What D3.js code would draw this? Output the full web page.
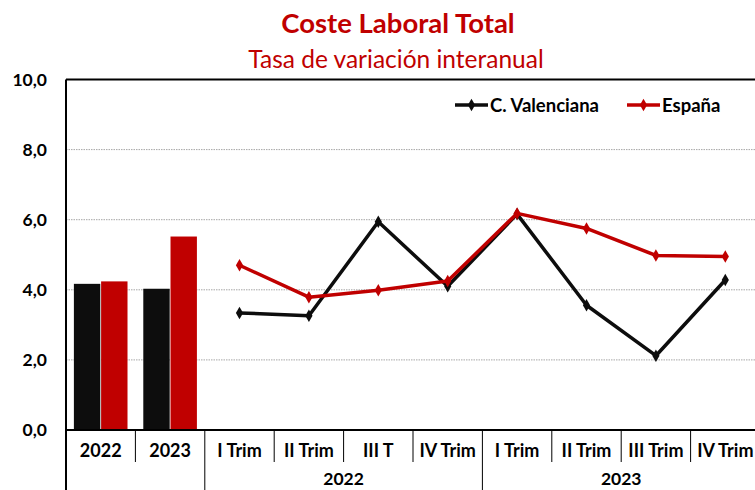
<!DOCTYPE html>
<html>
<head>
<meta charset="utf-8">
<script src="https://cdn.jsdelivr.net/npm/d3@7"></script>
<style>
  body { margin: 0; background: #fff; }
  text { font-family: Lato, 'Open Sans', sans-serif; }
</style>
</head>
<body>
<div id="chart"></div>
<script>
// categories on the x axis
const categories = ['2022a', '2023a', 'IT22', 'IIT22', 'IIIT22', 'IVT22', 'IT23', 'IIT23', 'IIIT23', 'IVT23'];
const catLabels = ['2022', '2023', 'I Trim', 'II Trim', 'III T', 'IV Trim', 'I Trim', 'II Trim', 'III Trim', 'IV Trim'];
const groups = [
    {label: '2022', from: 'IT22', to: 'IVT22'},
    {label: '2023', from: 'IT23', to: 'IVT23'}
];

// annual bars
const annual = ['2022a', '2023a'];
const barValenciana = [4.17, 4.03];
const barEspana = [4.24, 5.52];

// quarterly lines
const quarters = ['IT22', 'IIT22', 'IIIT22', 'IVT22', 'IT23', 'IIT23', 'IIIT23', 'IVT23'];
const lineValenciana = [3.34, 3.26, 5.94, 4.10, 6.16, 3.56, 2.12, 4.28];
const lineEspana = [4.70, 3.79, 3.99, 4.25, 6.18, 5.75, 4.98, 4.95];

const yTicks = [0, 2, 4, 6, 8, 10];

const colors = {cv: '#0d0d0d', es: '#c00000'};

const width = 755;
const height = 490;
const margin = {top: 79.5, left: 66, bottom: 60};
const plotRight = 760;

const svg = d3.select('#chart')
    .append('svg')
    .attr('width', width)
    .attr('height', height);

const x = d3.scaleBand()
    .domain(categories)
    .range([margin.left, plotRight]);

const y = d3.scaleLinear()
    .domain([0, 10])
    .range([430, margin.top]);

const xInner = d3.scaleBand()
    .domain(['cv', 'es'])
    .range([0, x.bandwidth()])
    .paddingInner(0.03)
    .paddingOuter(0.29);

// title
svg.append('text')
    .attr('x', 398)
    .attr('y', 33)
    .attr('text-anchor', 'middle')
    .style('font-size', '27.5px')
    .style('font-weight', 700)
    .style('fill', '#c00000')
    .text('Coste Laboral Total');

svg.append('text')
    .attr('x', 396)
    .attr('y', 68)
    .attr('text-anchor', 'middle')
    .style('font-size', '24.5px')
    .style('fill', '#c00000')
    .text('Tasa de variación interanual');

// gridlines
svg.append('g').selectAll('.grid')
    .data(yTicks.filter(d => d > 0 && d < 10))
    .enter()
    .append('line')
        .classed('grid', true)
        .attr('x1', margin.left)
        .attr('x2', plotRight)
        .attr('y1', d => y(d))
        .attr('y2', d => y(d))
        .attr('stroke', '#a6a6a6')
        .attr('stroke-width', 1)
        .attr('stroke-dasharray', '1.5,1');

// y axis
const yAxis = d3.axisLeft(y)
    .tickValues(yTicks)
    .tickSize(0)
    .tickPadding(19)
    .tickFormat(d => d3.format('.1f')(d).replace('.', ','));

svg.append('g')
    .attr('transform', 'translate(' + margin.left + ',0)')
    .call(yAxis)
    .call(g => g.select('.domain').remove())
    .selectAll('text')
        .style('font-size', '17.5px')
        .style('font-weight', 700)
        .style('fill', '#000')
        .style('font-family', 'Lato, sans-serif');

// top border and left axis
svg.append('line')
    .attr('x1', margin.left).attr('x2', plotRight)
    .attr('y1', y(10)).attr('y2', y(10))
    .attr('stroke', '#000').attr('stroke-width', 2);

svg.append('line')
    .attr('x1', margin.left).attr('x2', margin.left)
    .attr('y1', y(10)).attr('y2', height)
    .attr('stroke', '#000').attr('stroke-width', 2);

// bars
const barData = annual.map((c, i) => [
    {cat: c, key: 'cv', value: barValenciana[i]},
    {cat: c, key: 'es', value: barEspana[i]}
]).flat();

svg.append('g').selectAll('.bar')
    .data(barData)
    .enter()
    .append('rect')
        .classed('bar', true)
        .attr('x', d => x(d.cat) + xInner(d.key))
        .attr('y', d => y(d.value))
        .attr('width', xInner.bandwidth())
        .attr('height', d => y(0) - y(d.value))
        .attr('fill', d => colors[d.key]);

// lines
const cx = c => x(c) + x.bandwidth() / 2;
const seriesLines = [
    {key: 'cv', values: lineValenciana},
    {key: 'es', values: lineEspana}
];

const line = d3.line()
    .x((d, i) => cx(quarters[i]))
    .y(d => y(d));

const diamond = d3.symbol().type(d3.symbolDiamond).size(45);

seriesLines.forEach(s => {
    svg.append('path')
        .datum(s.values)
        .attr('d', line)
        .attr('fill', 'none')
        .attr('stroke', colors[s.key])
        .attr('stroke-width', 3.5)
        .attr('stroke-linejoin', 'round');

    svg.append('g').selectAll('.marker')
        .data(s.values)
        .enter()
        .append('path')
            .attr('d', diamond)
            .attr('transform', (d, i) => 'translate(' + cx(quarters[i]) + ',' + y(d) + ')')
            .attr('fill', colors[s.key]);
});

// bottom axis
svg.append('line')
    .attr('x1', margin.left).attr('x2', plotRight)
    .attr('y1', y(0)).attr('y2', y(0))
    .attr('stroke', '#000').attr('stroke-width', 2);

const longTicks = [categories[0], 'IT22', 'IT23'];
svg.append('g').selectAll('.tick-sep')
    .data(categories.slice(1))
    .enter()
    .append('line')
        .attr('x1', d => x(d))
        .attr('x2', d => x(d))
        .attr('y1', y(0))
        .attr('y2', d => longTicks.includes(d) ? height : 462)
        .attr('stroke', '#000')
        .attr('stroke-width', 1);

svg.append('g').selectAll('.cat-label')
    .data(categories)
    .enter()
    .append('text')
        .attr('x', d => cx(d))
        .attr('y', 457)
        .attr('text-anchor', 'middle')
        .style('font-size', '18px')
        .style('font-weight', 700)
        .text((d, i) => catLabels[i]);

svg.append('g').selectAll('.group-label')
    .data(groups)
    .enter()
    .append('text')
        .attr('x', d => (x(d.from) + x(d.to) + x.bandwidth()) / 2)
        .attr('y', 485)
        .attr('text-anchor', 'middle')
        .style('font-size', '17.5px')
        .style('font-weight', 700)
        .text(d => d.label);

// legend
const legendItems = [
    {key: 'cv', label: 'C. Valenciana', x: 455},
    {key: 'es', label: 'España', x: 627}
];

const legend = svg.append('g').selectAll('.legend')
    .data(legendItems)
    .enter()
    .append('g')
        .attr('transform', d => 'translate(' + d.x + ',105)');

legend.append('line')
    .attr('x1', 0).attr('x2', 33)
    .attr('y1', 0).attr('y2', 0)
    .attr('stroke', d => colors[d.key])
    .attr('stroke-width', 3.5);

legend.append('path')
    .attr('d', diamond)
    .attr('transform', 'translate(16.5,0)')
    .attr('fill', d => colors[d.key]);

legend.append('text')
    .attr('x', 35)
    .attr('y', 6.5)
    .style('font-size', '18.5px')
    .style('font-weight', 700)
    .text(d => d.label);
</script>
</body>
</html>
